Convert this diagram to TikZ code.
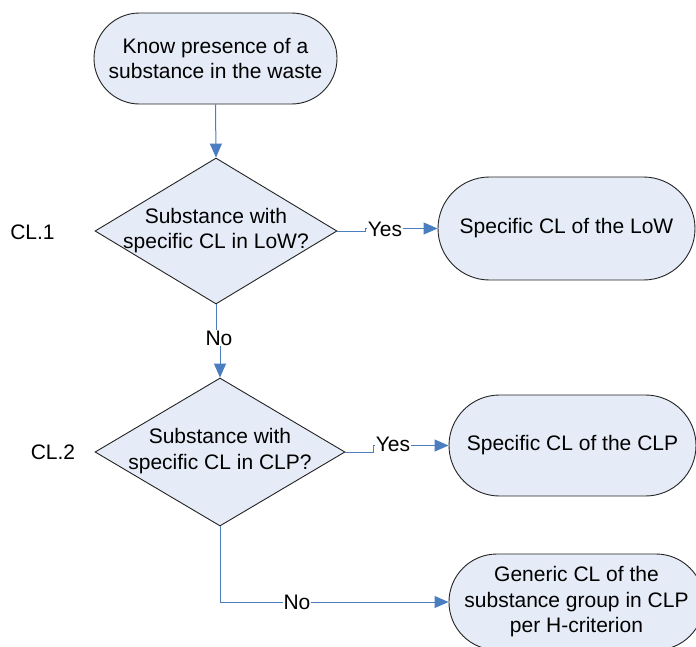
\documentclass[tikz,border=0pt]{standalone}
\usepackage{fontspec}
\setmainfont{Liberation Sans}
\usetikzlibrary{shapes.geometric,shapes.misc,arrows.meta}
\definecolor{boxfill}{RGB}{230,236,247}
\definecolor{flow}{RGB}{74,126,193}
\definecolor{edge}{RGB}{35,35,35}
\begin{document}
\begin{tikzpicture}[x=1pt,y=-1pt,
  font=\fontsize{21}{25.5}\selectfont,
  terminal/.style={rounded rectangle, draw=edge, fill=boxfill, line width=0.9pt, inner sep=0pt, align=center},
  decision/.style={diamond, draw=edge, fill=boxfill, line width=0.9pt, inner sep=0pt},
  txt/.style={align=center, inner sep=0pt},
  flowline/.style={draw=flow, line width=1pt},
  flowarrow/.style={flowline, -{Triangle[length=14pt,width=12pt]}},
  choice/.style={fill=white, inner sep=1pt}
]
\useasboundingbox (0,0) rectangle (696,646);

% process boxes and decisions
\node[terminal, minimum width=243pt, minimum height=91pt] (start) at (215.5,58.5)
  {Know presence of a\\substance in the waste};
\node[decision, minimum width=242pt, minimum height=146pt] (d1) at (216,231) {};
\node[txt] (q1) at (216,230.5) {Substance with\\specific CL in LoW?};
\node (cl1) at (32.5,232) {CL.1};
\node[terminal, minimum width=257pt, minimum height=103pt] (low) at (566.5,228.5)
  {Specific CL of the LoW};

\node[decision, minimum width=250pt, minimum height=148pt] (d2) at (220,452) {};
\node[txt] (q2) at (220,451) {Substance with\\specific CL in CLP?};
\node (cl2) at (53,452) {CL.2};
\node[terminal, minimum width=247pt, minimum height=101pt] (clp) at (572.5,445.5)
  {Specific CL of the CLP};
\node[terminal, minimum width=243pt, minimum height=96pt] (gen) at (576.5,602)
  {Generic CL of the\\substance group in CLP\\per H-criterion};

% connectors
\draw[flowarrow] (start.south) -- (d1.north);

\draw[flowarrow] (d1.east) -- (365,231) -- (365,228.5) -- (low.west);
\node[choice] (yes1) at (385,229) {Yes};

\draw[flowarrow] (d1.south) -- (216,338) -- (220,338) -- (d2.north);
\node[choice] (no1) at (219,338) {No};

\draw[flowarrow] (d2.east) -- (373,452) -- (373,445.5) -- (clp.west);
\node[choice] (yes2) at (393,444) {Yes};

\draw[flowarrow] (d2.south) |- (gen.west);
\node[choice] (no2) at (297,602) {No};
\end{tikzpicture}
\end{document}
